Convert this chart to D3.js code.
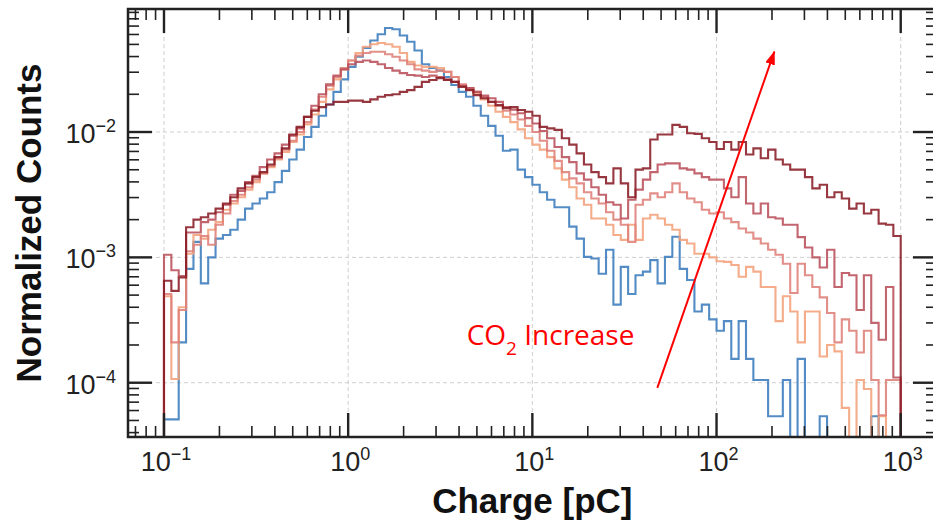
<!DOCTYPE html>
<html><head><meta charset="utf-8">
<script src="https://cdn.jsdelivr.net/npm/d3@7"></script>
<style>
html,body{margin:0;padding:0;background:#fff;}
svg{display:block;}
</style></head>
<body>
<svg id="chart" width="933" height="528"></svg>
<script>
// ---------------- data ----------------
const binRange = [0.1, 1000];      // histogram range (pC), log-spaced bins
const binCount = 100;
const xTicks = [0.1, 1, 10, 100, 1000];
const xTickExp = ["\u22121", "0", "1", "2", "3"];
const yTicks = [1e-4, 1e-3, 1e-2];
const yTickExp = ["\u22124", "\u22123", "\u22122"];
const seriesColors = ["#3b7cbd", "#f3a07a", "#df8079", "#b9505b", "#891b24"];

const blueCounts = [5.1e-5,5.1e-5,2.1e-4,8.1e-4,1.33e-3,6.2e-4,1.0e-3,1.41e-3,1.51e-3,1.66e-3,
2.0e-3,2.45e-3,2.69e-3,2.95e-3,3.31e-3,3.98e-3,4.9e-3,6.03e-3,7.24e-3,9.12e-3,
1.10e-2,1.35e-2,1.66e-2,2.09e-2,2.63e-2,3.31e-2,3.98e-2,4.68e-2,5.37e-2,6.03e-2,
6.76e-2,6.61e-2,5.89e-2,5.25e-2,4.47e-2,3.47e-2,3.24e-2,3.09e-2,2.75e-2,2.37e-2,
2.09e-2,1.91e-2,1.62e-2,1.35e-2,1.12e-2,9.33e-3,7.08e-3,7.24e-3,5.01e-3,4.37e-3,
3.80e-3,3.31e-3,2.88e-3,2.51e-3,2.51e-3,1.76e-3,1.41e-3,1.01e-3,9.8e-4,7.4e-4,
1.15e-3,4.2e-4,8.4e-4,5.1e-4,7.2e-4,7.7e-4,9.5e-4,6.2e-4,1.01e-3,1.46e-3,
8.1e-4,6.6e-4,3.7e-4,4.2e-4,3.2e-4,2.6e-4,3.1e-4,1.55e-4,3.1e-4,1.55e-4,
1.05e-4,1.05e-4,5.4e-5,5.4e-5,1.05e-4,0,1.55e-4,0,0,5.4e-5,
0,0,0,0,0,0,5.4e-5,0,0,0];

const orangeCounts = [4.9e-4,1.07e-4,4.0e-4,1.07e-3,1.51e-3,1.41e-3,1.66e-3,1.91e-3,2.4e-3,2.69e-3,
3.02e-3,3.47e-3,3.98e-3,4.68e-3,5.25e-3,6.03e-3,6.92e-3,8.32e-3,9.55e-3,1.15e-2,
1.38e-2,1.74e-2,2.19e-2,2.63e-2,3.16e-2,3.72e-2,4.27e-2,4.79e-2,5.01e-2,5.13e-2,
5.01e-2,4.79e-2,4.27e-2,3.63e-2,3.39e-2,3.31e-2,3.31e-2,3.24e-2,3.02e-2,2.75e-2,
2.34e-2,2.19e-2,2.04e-2,1.82e-2,1.62e-2,1.45e-2,1.32e-2,1.20e-2,1.05e-2,8.91e-3,
7.94e-3,7.24e-3,6.31e-3,5.13e-3,4.17e-3,3.63e-3,2.95e-3,2.63e-3,2.04e-3,2.04e-3,
1.82e-3,1.51e-3,1.38e-3,1.82e-3,1.38e-3,2.04e-3,2.19e-3,2.04e-3,1.82e-3,1.66e-3,
1.38e-3,1.29e-3,1.07e-3,1.07e-3,1.0e-3,9.3e-4,9.2e-4,8.7e-4,7.0e-4,8.4e-4,
7.7e-4,5.8e-4,5.8e-4,3.1e-4,4.9e-4,3.7e-4,2.1e-4,3.7e-4,3.7e-4,1.62e-4,
2.0e-4,1.78e-4,6.3e-5,0,1.05e-4,8.9e-5,0,5.4e-5,0,0];

const pinkCounts = [5.1e-4,2.1e-4,3.8e-4,1.12e-3,1.26e-3,1.48e-3,1.26e-3,1.82e-3,2.24e-3,2.82e-3,
3.16e-3,3.63e-3,4.17e-3,4.68e-3,5.37e-3,6.17e-3,7.24e-3,8.51e-3,1.0e-2,1.20e-2,
1.51e-2,1.91e-2,2.34e-2,2.75e-2,3.24e-2,3.72e-2,4.07e-2,4.27e-2,4.37e-2,4.37e-2,
4.17e-2,3.98e-2,3.72e-2,3.47e-2,3.16e-2,3.09e-2,3.02e-2,3.09e-2,3.02e-2,2.75e-2,
2.40e-2,2.24e-2,2.09e-2,1.91e-2,1.74e-2,1.62e-2,1.48e-2,1.38e-2,1.26e-2,1.12e-2,
1.0e-2,8.51e-3,7.08e-3,5.89e-3,4.79e-3,4.27e-3,3.89e-3,3.31e-3,2.95e-3,2.69e-3,
2.29e-3,2.0e-3,1.82e-3,1.33e-3,2.63e-3,2.88e-3,3.24e-3,3.02e-3,3.31e-3,3.89e-3,
3.31e-3,2.95e-3,2.75e-3,2.40e-3,2.24e-3,2.29e-3,2.04e-3,1.91e-3,1.70e-3,1.58e-3,
1.41e-3,1.29e-3,1.15e-3,1.05e-3,8.9e-4,5.2e-4,8.9e-4,7.2e-4,5.8e-4,4.8e-4,
3.6e-4,2.1e-4,3.2e-4,2.6e-4,1.74e-4,2.6e-4,1.05e-4,5.5e-5,1.05e-4,1.05e-4];

const roseCounts = [1.05e-3,7.9e-4,7.1e-4,1.58e-3,1.58e-3,1.91e-3,2.0e-3,2.29e-3,2.63e-3,3.16e-3,
3.39e-3,3.98e-3,4.47e-3,5.25e-3,6.03e-3,6.76e-3,7.94e-3,9.33e-3,1.07e-2,1.32e-2,
1.62e-2,2.0e-2,2.40e-2,2.82e-2,3.16e-2,3.47e-2,3.63e-2,3.72e-2,3.63e-2,3.47e-2,
3.24e-2,3.09e-2,2.95e-2,2.85e-2,2.82e-2,2.75e-2,2.82e-2,2.75e-2,2.63e-2,2.51e-2,
2.34e-2,2.24e-2,2.09e-2,1.95e-2,1.86e-2,1.74e-2,1.58e-2,1.51e-2,1.41e-2,1.29e-2,
1.17e-2,1.02e-2,8.91e-3,7.59e-3,6.31e-3,5.75e-3,4.68e-3,4.17e-3,3.63e-3,3.16e-3,
2.75e-3,2.63e-3,2.04e-3,2.88e-3,3.47e-3,4.17e-3,4.79e-3,5.50e-3,5.62e-3,5.62e-3,
5.13e-3,5.01e-3,4.68e-3,4.37e-3,4.17e-3,4.17e-3,3.55e-3,3.02e-3,4.37e-3,2.69e-3,
2.24e-3,2.69e-3,2.09e-3,2.04e-3,1.82e-3,1.82e-3,1.45e-3,1.20e-3,1.0e-3,8.3e-4,
1.15e-3,5.8e-4,7.5e-4,7.2e-4,3.8e-4,7.2e-4,3.0e-4,2.2e-4,5.8e-4,1.10e-4];

const darkRedCounts = [6.5e-4,5.4e-4,6.9e-4,1.74e-3,2.0e-3,2.09e-3,2.24e-3,2.45e-3,2.69e-3,3.02e-3,
3.55e-3,3.89e-3,4.37e-3,4.79e-3,5.50e-3,6.31e-3,7.41e-3,9.55e-3,1.10e-2,1.32e-2,
1.48e-2,1.58e-2,1.66e-2,1.74e-2,1.74e-2,1.78e-2,1.78e-2,1.74e-2,1.82e-2,1.91e-2,
1.97e-2,2.0e-2,2.09e-2,2.16e-2,2.29e-2,2.51e-2,2.60e-2,2.69e-2,2.60e-2,2.51e-2,
2.29e-2,2.16e-2,1.97e-2,1.86e-2,1.74e-2,1.64e-2,1.55e-2,1.58e-2,1.50e-2,1.45e-2,
1.35e-2,1.10e-2,1.07e-2,1.04e-2,8.91e-3,7.94e-3,6.76e-3,5.50e-3,4.79e-3,4.37e-3,
3.89e-3,5.13e-3,3.89e-3,3.02e-3,5.01e-3,5.13e-3,8.71e-3,9.55e-3,9.55e-3,1.14e-2,
1.10e-2,9.77e-3,9.66e-3,8.91e-3,8.32e-3,7.33e-3,8.32e-3,7.24e-3,8.32e-3,6.61e-3,
7.41e-3,6.17e-3,7.24e-3,6.03e-3,5.50e-3,5.01e-3,5.01e-3,4.37e-3,3.55e-3,3.80e-3,
3.02e-3,3.31e-3,2.95e-3,2.45e-3,2.69e-3,2.24e-3,2.40e-3,1.86e-3,1.82e-3,1.48e-3];

const annotationParts = ["CO", "2", " Increase"];
const annotationAt = [4.4, 2.0e-4];
const arrowFrom = [47.7, 9.1e-5];
const arrowTo = [206, 0.0438];
const xTitle = "Charge [pC]";
const yTitle = "Normalized Counts";

// ---------------- layout ----------------
const W = 933, H = 528;
const plot = {left: 128, right: 937, top: 9, bottom: 437};
const xDomain = [0.06377, 1574];
const yDomain = [3.69e-5, 0.0958];

const svg = d3.select("#chart");
svg.append("rect").attr("width", W).attr("height", H).attr("fill", "#fff");

const x = d3.scaleLog().domain(xDomain).range([plot.left, plot.right]);
const y = d3.scaleLog().domain(yDomain).range([plot.bottom, plot.top]);

const tickFont = "'Liberation Sans', Arial, Helvetica, sans-serif";
const ink = "#222";

// clip
svg.append("defs").append("clipPath").attr("id", "plotclip")
  .append("rect").attr("x", plot.left).attr("y", plot.top)
  .attr("width", plot.right - plot.left).attr("height", plot.bottom - plot.top);

// grid
const grid = svg.append("g").attr("stroke", "#cfcfcf").attr("stroke-width", 1)
  .attr("stroke-dasharray", "4,3");
grid.selectAll("line.gx").data(xTicks).join("line").attr("class", "gx")
  .attr("x1", d => x(d)).attr("x2", d => x(d)).attr("y1", plot.top).attr("y2", plot.bottom);
grid.selectAll("line.gy").data(yTicks).join("line").attr("class", "gy")
  .attr("y1", d => y(d)).attr("y2", d => y(d)).attr("x1", plot.left).attr("x2", plot.right);

// series
const edges = d3.range(binCount + 1).map(i => binRange[0] * Math.pow(binRange[1] / binRange[0], i / binCount));
const allSeries = [blueCounts, orangeCounts, pinkCounts, roseCounts, darkRedCounts];
const below = plot.bottom + 40;
const yy = v => (v > 0 ? y(v) : below);
const line = d3.line().x(d => x(d[0])).y(d => d[1]).curve(d3.curveStepAfter);

const gSeries = svg.append("g").attr("clip-path", "url(#plotclip)");
allSeries.forEach((vals, si) => {
  const pts = [[edges[0], below]];
  vals.forEach((v, i) => pts.push([edges[i], yy(v)]));
  pts.push([edges[binCount], yy(vals[binCount - 1])]);
  pts.push([edges[binCount], below]);
  gSeries.append("path").attr("d", line(pts)).attr("fill", "none")
    .attr("stroke", seriesColors[si]).attr("stroke-width", 2.1)
    .attr("stroke-opacity", 0.88).attr("stroke-linejoin", "miter");
});

// ticks (inward, all sides)
function minorTicks(domain) {
  const out = [];
  const lo = Math.floor(Math.log10(domain[0])), hi = Math.ceil(Math.log10(domain[1]));
  for (let e = lo; e <= hi; e++) for (let k = 2; k <= 9; k++) {
    const v = k * Math.pow(10, e);
    if (v >= domain[0] && v <= domain[1]) out.push(v);
  }
  return out;
}
const xMinor = minorTicks(xDomain), yMinor = minorTicks(yDomain);
const MAJ = 24, MIN = 11;
const tk = svg.append("g").attr("stroke", ink);
function vTicks(vals, len, w) {
  vals.forEach(v => {
    tk.append("line").attr("x1", x(v)).attr("x2", x(v)).attr("y1", plot.bottom).attr("y2", plot.bottom - len).attr("stroke-width", w);
    tk.append("line").attr("x1", x(v)).attr("x2", x(v)).attr("y1", plot.top).attr("y2", plot.top + len).attr("stroke-width", w);
  });
}
function hTicks(vals, len, w) {
  vals.forEach(v => {
    tk.append("line").attr("y1", y(v)).attr("y2", y(v)).attr("x1", plot.left).attr("x2", plot.left + len).attr("stroke-width", w);
    tk.append("line").attr("y1", y(v)).attr("y2", y(v)).attr("x1", plot.right).attr("x2", plot.right - len).attr("stroke-width", w);
  });
}
vTicks(xTicks, MAJ, 2.4); vTicks(xMinor, MIN, 1.6);
hTicks(yTicks, MAJ, 2.4); hTicks(yMinor, MIN, 1.6);

// frame
svg.append("rect").attr("x", plot.left).attr("y", plot.top)
  .attr("width", plot.right - plot.left).attr("height", plot.bottom - plot.top)
  .attr("fill", "none").attr("stroke", ink).attr("stroke-width", 2.5);

// tick labels
xTicks.forEach((v, i) => {
  const t = svg.append("text").attr("x", x(v) + 2).attr("y", 471)
    .attr("text-anchor", "middle").attr("font-family", tickFont)
    .attr("font-size", 27).attr("fill", ink);
  t.append("tspan").text("10");
  t.append("tspan").attr("dy", -11).attr("font-size", 18).text(xTickExp[i]);
});
yTicks.forEach((v, i) => {
  const t = svg.append("text").attr("x", 116).attr("y", y(v) + 11)
    .attr("text-anchor", "end").attr("font-family", tickFont)
    .attr("font-size", 27).attr("fill", ink);
  t.append("tspan").text("10");
  t.append("tspan").attr("dy", -11).attr("font-size", 18).text(yTickExp[i]);
});

// axis titles
svg.append("text").attr("x", x(Math.sqrt(xTicks[0] * xTicks[4]) ) ).attr("y", 513)
  .attr("text-anchor", "middle").attr("font-family", tickFont)
  .attr("font-weight", "bold").attr("font-size", 35).attr("fill", "#111").text(xTitle);
svg.append("text").attr("transform", `translate(41,${(plot.top + plot.bottom) / 2}) rotate(-90)`)
  .attr("text-anchor", "middle").attr("font-family", tickFont)
  .attr("font-weight", "bold").attr("font-size", 35).attr("fill", "#111").text(yTitle);

// annotation arrow
const defs = svg.select("defs");
defs.append("marker").attr("id", "ah").attr("viewBox", "0 0 14 10")
  .attr("refX", 13).attr("refY", 5).attr("markerWidth", 14).attr("markerHeight", 10)
  .attr("markerUnits", "userSpaceOnUse").attr("orient", "auto")
  .append("path").attr("d", "M0,0 L14,5 L0,10 Z").attr("fill", "#ff0000");
svg.append("line")
  .attr("x1", x(arrowFrom[0])).attr("y1", y(arrowFrom[1]))
  .attr("x2", x(arrowTo[0])).attr("y2", y(arrowTo[1]))
  .attr("stroke", "#ff0000").attr("stroke-width", 2).attr("marker-end", "url(#ah)");

const ann = svg.append("text").attr("x", x(annotationAt[0])).attr("y", y(annotationAt[1]))
  .attr("font-family", "'Open Sans', 'Noto Sans', sans-serif").attr("font-size", 28).attr("fill", "#ff0000");
ann.append("tspan").text(annotationParts[0]);
ann.append("tspan").attr("dy", 10).attr("font-size", 19).text(annotationParts[1]);
ann.append("tspan").attr("dy", -10).text(annotationParts[2]);
</script>
</body></html>
